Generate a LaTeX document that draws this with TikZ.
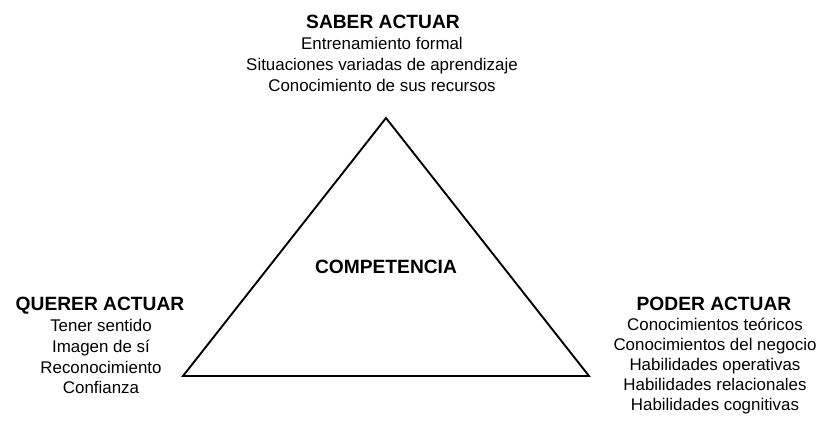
\documentclass[tikz,border=0pt]{standalone}
\usepackage{fontspec}
\setmainfont{Liberation Sans}
\begin{document}
\begin{tikzpicture}[x=1pt,y=-1pt]
\tikzset{
  heading/.style={font=\fontsize{19.2}{21}\selectfont\bfseries, inner sep=0pt, anchor=base},
  body/.style={font=\fontsize{16.9}{20.5}\selectfont, inner sep=0pt, anchor=base},
  tri/.style={draw=black, line width=1.9pt, line join=miter}
}
\useasboundingbox (0,0) rectangle (820,421);
\coordinate (A) at (386,118);
\coordinate (B) at (183,376);
\coordinate (C) at (589,376);
\draw[tri] (A) -- (B) -- (C) -- cycle;

\node[heading] (saber) at (383,28) {SABER ACTUAR};
\node[body] (s1) at (382,49) {Entrenamiento formal};
\node[body] (s2) at (382,70) {Situaciones variadas de aprendizaje};
\node[body] (s3) at (382,91) {Conocimiento de sus recursos};

\node[heading] (querer) at (100,310) {QUERER ACTUAR};
\node[body] (q1) at (101,331.5) {Tener sentido};
\node[body] (q2) at (101,352.3) {Imagen de sí};
\node[body] (q3) at (101,373) {Reconocimiento};
\node[body] (q4) at (101,393.5) {Confianza};

\node[heading] (poder) at (714,310) {PODER ACTUAR};
\node[body] (p1) at (715,330.5) {Conocimientos teóricos};
\node[body] (p2) at (715,350.5) {Conocimientos del negocio};
\node[body] (p3) at (715,370.5) {Habilidades operativas};
\node[body] (p4) at (715,390.5) {Habilidades relacionales};
\node[body] (p5) at (715,410.5) {Habilidades cognitivas};

\node[heading] (comp) at (386,273) {COMPETENCIA};
\end{tikzpicture}
\end{document}
